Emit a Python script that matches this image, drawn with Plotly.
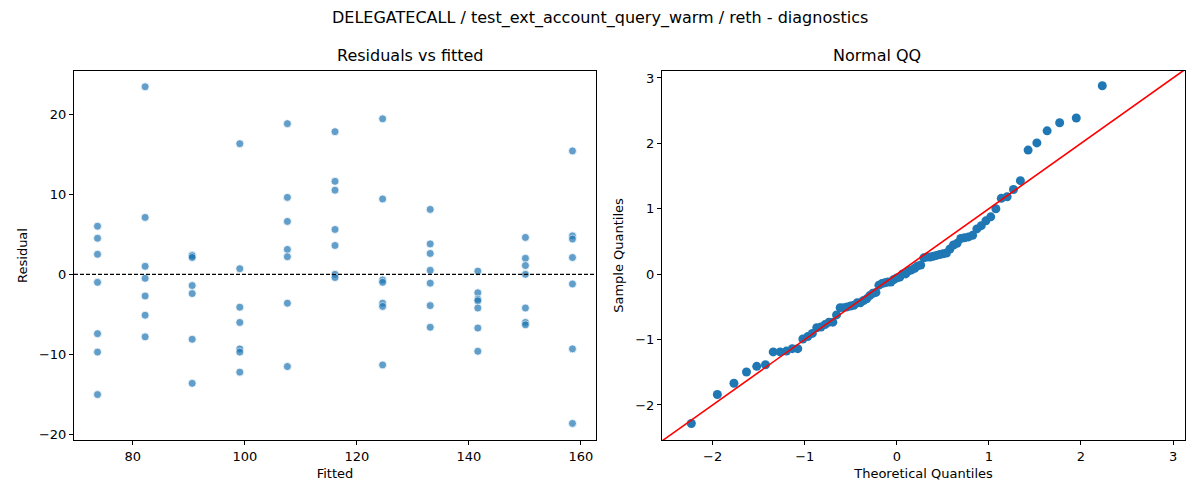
import numpy as np
from statistics import NormalDist

import plotly.graph_objs as go

# Fitted value levels (one column of points each) and the residuals
fitted_levels = [73.7, 82.2, 90.6, 99.1, 107.6, 116.1, 124.6, 133.1, 141.6, 150.1, 158.5]
resid_73 = [6.0, 4.5, 2.5, -1.0, -7.4, -9.7, -15.0]
resid_82 = [23.4, 7.1, 1.0, -0.5, -2.7, -5.1, -7.8]
resid_91 = [2.4, 2.3, 2.1, -1.4, -2.4, -8.1, -13.6]
resid_99 = [16.3, 0.7, -4.1, -6.0, -9.3, -9.7, -12.2]
resid_108 = [18.8, 9.6, 6.6, 3.1, 2.2, -3.6, -11.5]
resid_116 = [17.8, 11.6, 10.5, 5.6, 3.6, 0.0, -0.4]
resid_125 = [19.4, 9.4, -0.7, -1.0, -3.6, -4.0, -11.3]
resid_133 = [8.1, 3.8, 2.6, 0.5, -1.1, -3.9, -6.6]
resid_142 = [0.4, -2.3, -3.1, -3.3, -4.2, -6.7, -9.6]
resid_150 = [4.6, 2.0, 1.1, 0.0, -4.2, -6.0, -6.3]
resid_159 = [15.4, 4.8, 4.4, 2.1, -1.2, -9.3, -18.6]
resid_cols = [resid_73, resid_82, resid_91, resid_99, resid_108, resid_116,
              resid_125, resid_133, resid_142, resid_150, resid_159]

# 45 degree reference line for the QQ plot
ref_line = [-3.0, 3.5]

font = 'DejaVu Sans'
blue = '#1f77b4'
W, H = 1200, 500
off = 8  # page body margin

fitted = []
resid = []
for lvl, col in zip(fitted_levels, resid_cols):
    fitted += [lvl] * len(col)
    resid += col
resid = np.array(resid)

# QQ: standardised sorted residuals vs normal quantiles (plotting pos i/(n+1))
n = len(resid)
sample_q = np.sort((resid - resid.mean()) / resid.std())
nd = NormalDist()
theo_q = [nd.inv_cdf(i / (n + 1)) for i in range(1, n + 1)]

def px_x(p):
    return (p - off) / W

def px_y(p):
    return 1 - (p - off) / H

fig = go.Figure()

fig.add_trace(go.Scatter(
    x=fitted, y=resid, mode='markers',
    marker=dict(size=8, color=blue, opacity=0.7, line=dict(color='white', width=0.8)),
    xaxis='x', yaxis='y',
))
fig.add_trace(go.Scatter(
    x=theo_q, y=sample_q, mode='markers',
    marker=dict(size=9, color=blue, line=dict(color=blue, width=0)),
    xaxis='x2', yaxis='y2',
))
fig.add_trace(go.Scatter(
    x=ref_line, y=ref_line, mode='lines',
    line=dict(color='red', width=1.6),
    xaxis='x2', yaxis='y2',
))

# Dashed zero line
fig.add_shape(type='line', xref='x domain', yref='y', x0=0, x1=1, y0=0, y1=0,
              line=dict(color='black', width=1.2, dash='4px,2px'))

axis_common = dict(
    showline=True, linecolor='black', linewidth=1, mirror=True,
    ticks='outside', ticklen=4, tickcolor='black', showgrid=False, zeroline=False,
    tickfont=dict(family=font, size=13, color='black'),
    title_font=dict(family=font, size=13, color='black'),
)

y_dom = [px_y(442), px_y(71)]

fig.update_layout(
    width=W, height=H,
    margin=dict(l=0, r=0, t=0, b=0),
    paper_bgcolor='white', plot_bgcolor='white',
    showlegend=False,
    font=dict(family=font, color='black'),
    xaxis=dict(domain=[px_x(74), px_x(596)], range=[69.5, 162.7],
               tickvals=[80, 100, 120, 140, 160], title=dict(text='Fitted', standoff=6),
               anchor='y', **axis_common),
    yaxis=dict(domain=y_dom, range=[-20.7, 25.4], tickvals=[-20, -10, 0, 10, 20],
               title=dict(text='Residual', standoff=8), anchor='x', **axis_common),
    xaxis2=dict(domain=[px_x(662), px_x(1185)], range=[-2.55, 3.13],
                tickvals=[-2, -1, 0, 1, 2, 3], title=dict(text='Theoretical Quantiles', standoff=6),
                anchor='y2', **axis_common),
    yaxis2=dict(domain=y_dom, range=[-2.54, 3.11], tickvals=[-2, -1, 0, 1, 2, 3],
                title=dict(text='Sample Quantiles', standoff=8), anchor='x2', **axis_common),
    annotations=[
        dict(text='DELEGATECALL / test_ext_account_query_warm / reth - diagnostics',
             x=px_x(600), y=px_y(18), xref='paper', yref='paper', showarrow=False,
             font=dict(family=font, size=16, color='black'), yanchor='middle'),
        dict(text='Residuals vs fitted', x=px_x(335), y=px_y(56), xref='paper', yref='paper',
             showarrow=False, font=dict(family=font, size=16, color='black'), yanchor='middle'),
        dict(text='Normal QQ', x=px_x(923), y=px_y(56), xref='paper', yref='paper',
             showarrow=False, font=dict(family=font, size=16, color='black'), yanchor='middle'),
    ],
)

fig.write_html('out.html')
